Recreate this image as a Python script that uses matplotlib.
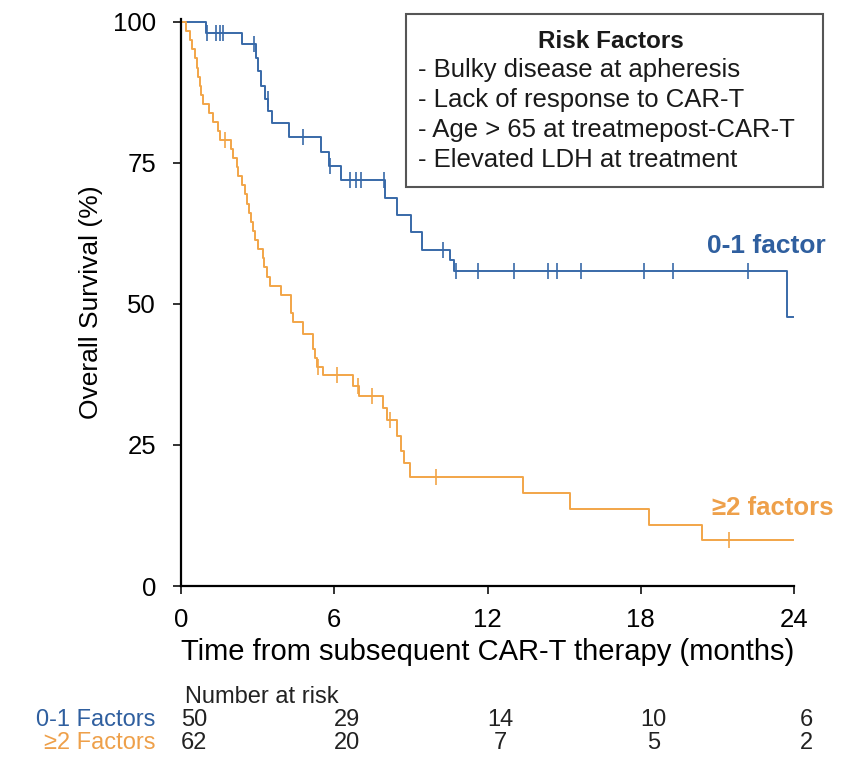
import matplotlib
matplotlib.use('Agg')

import matplotlib.pyplot as plt
from matplotlib.patches import Rectangle

plt.rcParams['font.family'] = ['Liberation Sans', 'DejaVu Sans']

# Kaplan-Meier step points (months, % surviving)
low_risk_t = [0, 0.98, 2.37, 2.94, 3.0, 3.15, 3.3, 3.42, 3.55, 4.24, 5.5, 5.8,
              6.25, 7.99, 8.45, 9.0, 9.45, 10.55, 10.68, 23.71, 23.95]
low_risk_s = [100, 98, 96, 93.5, 91.2, 88.7, 86.3, 84.2, 82, 79.5, 77, 74.5,
              72, 68.8, 65.8, 62.7, 59.6, 57.8, 55.9, 47.7, 47.7]
low_risk_cens = [1.03, 1.37, 1.53, 1.66, 2.87, 3.4, 4.76, 5.83, 6.62, 6.85, 7.05,
                 7.95, 10.25, 10.77, 11.62, 13.04, 14.36, 14.73, 15.66, 18.14,
                 19.28, 22.19]

high_risk_t = [0, 0.2, 0.35, 0.42, 0.55, 0.61, 0.68, 0.74, 0.8, 0.85, 1.08, 1.27,
               1.45, 1.53, 1.97, 2.05, 2.2, 2.25, 2.38, 2.5, 2.6, 2.68, 2.75,
               2.82, 2.9, 3.0, 3.2, 3.25, 3.38, 3.5, 3.9, 4.3, 4.37, 4.79, 5.18,
               5.25, 5.33, 5.57, 6.75, 6.95, 7.92, 8.05, 8.45, 8.6, 8.75, 8.95,
               13.4, 15.23, 18.34, 20.39, 23.95]
high_risk_s = [100, 98.4, 96.8, 95.2, 93.5, 91.9, 90.3, 88.7, 87.1, 85.5, 83.9,
               82.3, 80.6, 79.0, 77.4, 75.8, 74.2, 72.6, 71.0, 69.4, 67.7, 66.1,
               64.5, 62.9, 61.3, 59.7, 58.1, 56.5, 54.8, 53.2, 51.6, 48.4, 46.8,
               44.6, 42.0, 40.5, 38.9, 37.4, 35.4, 33.6, 31.5, 29.4, 26.5, 24.0,
               21.8, 19.4, 16.5, 13.6, 10.8, 8.2, 8.2]
high_risk_cens = [1.72, 5.37, 6.1, 6.94, 7.47, 8.18, 10.0, 21.46]

risk_times = [0, 6, 12, 18, 24]
at_risk_low = [50, 29, 14, 10, 6]
at_risk_high = [62, 20, 7, 5, 2]

risk_factors = [
    '- Bulky disease at apheresis',
    '- Lack of response to CAR-T',
    '- Age > 65 at treatmepost-CAR-T',
    '- Elevated LDH at treatment',
]

BLUE = '#3869a8'
BLUE_TXT = '#2f5f9f'
ORANGE = '#f2a548'
ORANGE_TXT = '#eea04a'

W, H = 859, 762
fig = plt.figure(figsize=(W / 100, H / 100), dpi=100)
ax = fig.add_axes([181 / W, 1 - 586 / H, (794 - 181) / W, (586 - 19) / H])


def surv_at(ts, ss, t):
    val = ss[0]
    for ti, si in zip(ts, ss):
        if ti <= t:
            val = si
    return val


for ts, ss, cens, col in [(low_risk_t, low_risk_s, low_risk_cens, BLUE),
                          (high_risk_t, high_risk_s, high_risk_cens, ORANGE)]:
    ax.step(ts, ss, where='post', color=col, lw=1.4, clip_on=False)
    ax.plot(cens, [surv_at(ts, ss, c) for c in cens], ls='none', marker='|',
            ms=11, mew=1.2, color=col, clip_on=False)

ax.set_xlim(0, 24)
ax.set_ylim(0, 100.5)
ax.set_xticks(risk_times)
ax.set_yticks([0, 25, 50, 75, 100])
for side in ['top', 'right']:
    ax.spines[side].set_visible(False)
for side in ['left', 'bottom']:
    ax.spines[side].set_linewidth(1.6)
ax.tick_params(axis='both', labelsize=18.5, width=1.3, length=6, color='#222222')
ax.tick_params(axis='y', pad=12)
ax.tick_params(axis='x', pad=10)
ax.set_ylabel('Overall Survival (%)', fontsize=19, labelpad=7)
ax.set_xlabel('Time from subsequent CAR-T therapy (months)', fontsize=21,
              labelpad=4)

ax.text(22.9, 60.3, '0-1 factor', color=BLUE_TXT, fontsize=19,
        fontweight='bold', ha='center', va='center')
ax.text(23.15, 13.8, '\u22652 factors', color=ORANGE_TXT, fontsize=18.5,
        fontweight='bold', ha='center', va='center')

# risk factor box
fig.patches.append(Rectangle((406 / W, 1 - 187 / H), (823 - 406) / W,
                             (187 - 14) / H, transform=fig.transFigure,
                             fill=False, ec='#555555', lw=1.5))
fig.text(611 / W, 1 - 41 / H, 'Risk Factors', fontsize=17.5, fontweight='bold',
         ha='center', va='center', color='#1a1a1a')
for i, line in enumerate(risk_factors):
    fig.text(418 / W, 1 - (70 + 30 * i) / H, line, fontsize=18.5,
             ha='left', va='center', color='#1a1a1a')

# number at risk table
fig.text(185 / W, 1 - 697 / H, 'Number at risk', fontsize=17, ha='left',
         va='center', color='#222222')
for row, (label, counts, col) in enumerate([('0-1 Factors', at_risk_low, BLUE_TXT),
                                            ('\u22652 Factors', at_risk_high, ORANGE_TXT)]):
    y = 1 - (720 + 23 * row) / H
    fig.text(155 / W, y, label, fontsize=17, ha='right', va='center', color=col)
    for t, n in zip(risk_times, counts):
        xf = fig.transFigure.inverted().transform(ax.transData.transform((t + 0.5, 0)))[0]
        fig.text(xf, y, str(n), fontsize=17, ha='center', va='center',
                 color='#222222')

fig.savefig('out.png', dpi=100)
